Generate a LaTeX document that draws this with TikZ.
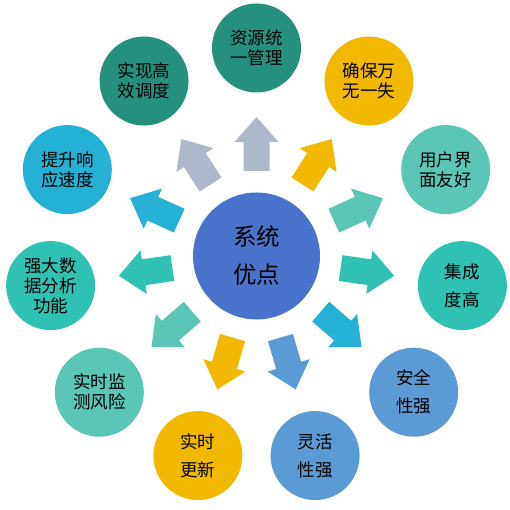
\documentclass[tikz,border=0pt]{standalone}
\usepackage{fontspec}
\newfontfamily\cjk{Noto Sans CJK SC}
\definecolor{cdteal}{HTML}{26907F}
\definecolor{cyellow}{HTML}{F2B800}
\definecolor{clteal}{HTML}{5BC5B6}
\definecolor{cteal}{HTML}{2FC1B1}
\definecolor{ccyan}{HTML}{25B0D5}
\definecolor{cblue}{HTML}{5B9BD5}
\definecolor{cgray}{HTML}{ADB9CA}
\definecolor{ccore}{HTML}{4874CB}
\begin{document}
\begin{tikzpicture}[x=1pt,y=1pt,
  petal/.style={circle, minimum size=89pt, inner sep=0pt, align=center, text=black, font=\cjk\fontsize{17.5}{20}\selectfont},
  wide/.style={font=\cjk\fontsize{17.5}{28}\selectfont},
  corecircle/.style={circle, minimum size=127pt, inner sep=0pt, align=center, fill=ccore, text=black, font=\cjk\fontsize{23.5}{38}\selectfont}]
\useasboundingbox (0,0) rectangle (510,510);
\coordinate (C) at (256.5,254);
\node[corecircle] (core) at (C) {系统\\优点};
% block arrows
\foreach \a/\c in {90/cgray, 57.27/cyellow, 24.55/clteal, -8.18/cteal, -40.91/ccyan, -73.64/cblue, -106.36/cyellow, -139.09/clteal, -171.82/cteal, 155.45/ccyan, 122.73/cgray}{
  \fill[\c, shift={(C)}, rotate=\a] (85,-13) -- (114,-13) -- (114,-22) -- (139,0) -- (114,22) -- (114,13) -- (85,13) -- cycle;
}
% outer circles
\node[petal, fill=cdteal] (p0) at ([shift={(90:208)}]C) {资源统\\一管理};
\node[petal, fill=cyellow] (p1) at ([shift={(57.27:208)}]C) {确保万\\无一失};
\node[petal, fill=clteal] (p2) at ([shift={(24.55:208)}]C) {用户界\\面友好};
\node[petal, wide, fill=cteal] (p3) at ([shift={(-8.18:208)}]C) {集成\\度高};
\node[petal, wide, fill=cblue] (p4) at ([shift={(-40.91:208)}]C) {安全\\性强};
\node[petal, wide, fill=cblue] (p5) at ([shift={(-73.64:208)}]C) {灵活\\性强};
\node[petal, wide, fill=cyellow] (p6) at ([shift={(-106.36:208)}]C) {实时\\更新};
\node[petal, fill=clteal] (p7) at ([shift={(-139.09:208)}]C) {实时监\\测风险};
\node[petal, fill=cteal] (p8) at ([shift={(-171.82:208)}]C) {强大数\\据分析\\功能};
\node[petal, fill=ccyan] (p9) at ([shift={(155.45:208)}]C) {提升响\\应速度};
\node[petal, fill=cdteal] (p10) at ([shift={(122.73:208)}]C) {实现高\\效调度};
\end{tikzpicture}
\end{document}
